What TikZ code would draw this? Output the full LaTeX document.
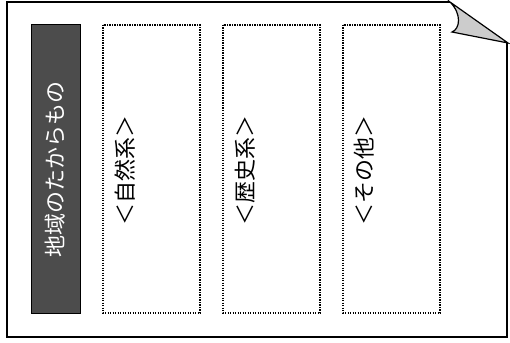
\documentclass[tikz,border=0pt]{standalone}
\usepackage{fontspec}
\setmainfont{Noto Sans CJK JP}
\usetikzlibrary{positioning}
\tikzset{
	sheet/.style={draw=black,line width=1.5pt,line join=miter},
	titlebox/.style={draw=black,fill=black!70,line width=0.8pt,text=white,rotate=90,
		minimum width=289pt,minimum height=49pt,inner sep=0pt,font=\fontsize{22}{26}\selectfont},
	dotbox/.style={draw=black,line width=1.3pt,dash pattern=on 1.2pt off 1.3pt},
	boxlabel/.style={rotate=90,inner sep=0pt,font=\fontsize{22}{26}\selectfont}
}
\begin{document}
\begin{tikzpicture}[x=1pt,y=-1pt]
	\useasboundingbox (0,0) rectangle (510,342);
	% outer sheet with turned corner
	\draw[sheet] (450,2) -- (7,2) -- (7,337) -- (507,337) -- (507,43);
	\draw[sheet,line width=1.2pt,fill=black!20] (450,2) .. controls (462,14) and (460,29) .. (452,32) -- (508,43) -- cycle;
	% title
	\node[titlebox] (title) at (55.5,169) {地域のたからもの};
	% three dotted columns
	\draw[dotbox] (103,25) rectangle (200,313);
	\draw[dotbox] (223,25) rectangle (320,313);
	\draw[dotbox] (343,25) rectangle (440,313);
	\node[boxlabel] (nature) at (125,170) {＜自然系＞};
	\node[boxlabel] (history) at (245,170) {＜歴史系＞};
	\node[boxlabel] (other) at (364,170) {＜その他＞};
\end{tikzpicture}
\end{document}
